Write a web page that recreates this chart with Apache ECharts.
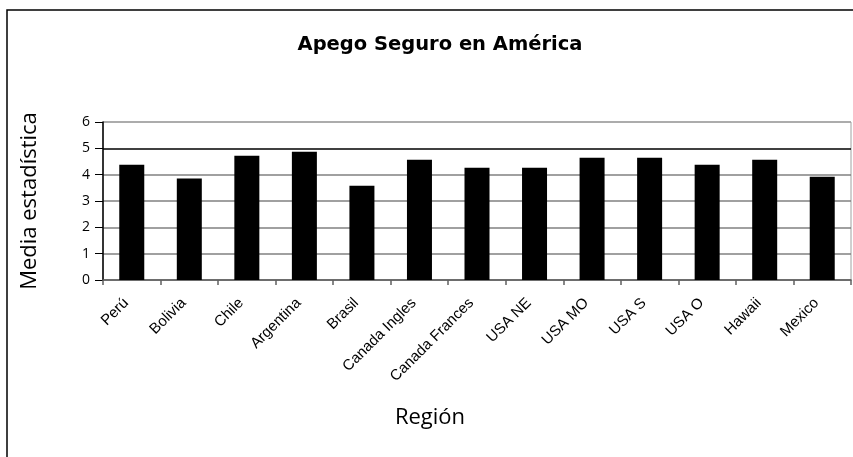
<!DOCTYPE html>
<html>
<head>
<meta charset="utf-8">
<script src="https://cdn.jsdelivr.net/npm/echarts@6/dist/echarts.min.js"></script>
<style>
html,body{margin:0;padding:0;background:#fff;}
#chart{width:853px;height:457px;}
</style>
</head>
<body>
<div id="chart"></div>
<script>
const categories = ['Perú','Bolivia','Chile','Argentina','Brasil','Canada Ingles','Canada Frances','USA NE','USA MO','USA S','USA O','Hawaii','Mexico'];
const values = [4.38, 3.85, 4.72, 4.87, 3.58, 4.57, 4.26, 4.26, 4.64, 4.64, 4.38, 4.57, 3.92];
const yTicks = [0, 1, 2, 3, 4, 5, 6];
const titleText = 'Apego Seguro en América';
const xName = 'Región';
const yName = 'Media estadística';

const chart = echarts.init(document.getElementById('chart'), null, {renderer: 'canvas'});
chart.setOption({
  backgroundColor: '#ffffff',
  animation: false,
  title: {
    text: titleText,
    left: 435, top: 30, textAlign: 'center',
    textStyle: {fontFamily: 'DejaVu Sans', fontWeight: 'bold', fontSize: 19.5, color: '#000'}
  },
  graphic: [{
    type: 'rect', silent: true,
    shape: {x: 7, y: 10, width: 900, height: 500},
    style: {fill: 'none', stroke: '#000', lineWidth: 1.5}
  }, {
    type: 'text', silent: true,
    x: 430, y: 418,
    style: {text: xName, fontFamily: 'Open Sans', fontSize: 22, fill: '#000', align: 'center', verticalAlign: 'middle'}
  }],
  grid: {
    left: 103, right: 2, top: 122, bottom: 177,
    show: true, borderColor: '#a0a0a0', borderWidth: 1, containLabel: false
  },
  xAxis: {
    type: 'category',
    data: categories,
    axisLine: {lineStyle: {color: '#606060', width: 1.5}},
    axisTick: {show: true, length: 5, lineStyle: {color: '#606060', width: 1.5}},
    axisLabel: {rotate: 45, margin: 15, interval: 0, padding: [0, 8, 0, 0], fontFamily: 'Liberation Sans', fontSize: 15, color: '#000'}
  },
  yAxis: {
    type: 'value',
    min: yTicks[0], max: yTicks[yTicks.length - 1], interval: 1,
    name: yName,
    nameLocation: 'middle',
    nameGap: 62,
    nameTextStyle: {fontFamily: 'Open Sans', fontSize: 22, color: '#000'},
    axisLine: {show: true, lineStyle: {color: '#000', width: 1.5}},
    axisTick: {show: true, length: 8, lineStyle: {color: '#000', width: 1}},
    axisLabel: {margin: 13, fontFamily: 'Open Sans', fontSize: 14, color: '#000'},
    splitLine: {show: true, lineStyle: {width: 1.5, color: ['#808080','#808080','#808080','#808080','#808080','#000000','#a0a0a0']}}
  },
  series: [{
    type: 'bar',
    data: values,
    barWidth: 25,
    itemStyle: {color: '#000'}
  }]
});
</script>
</body>
</html>
